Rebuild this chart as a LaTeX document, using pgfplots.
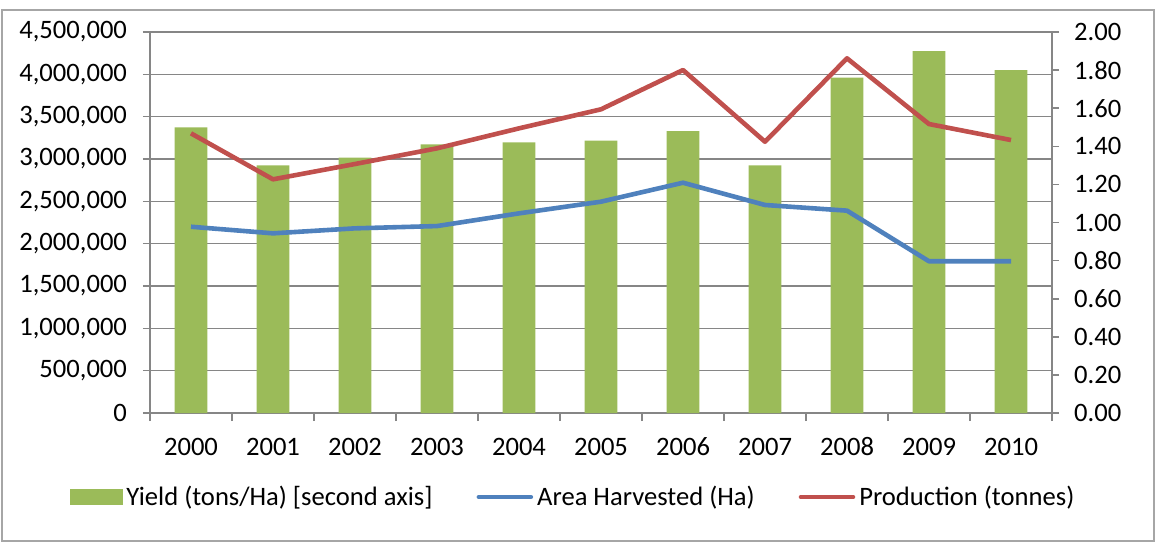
\documentclass[border=0pt]{standalone}
\usepackage{pgfplots}
\pgfplotsset{compat=1.18}
\usepackage{fontspec}
\setmainfont{Carlito}
\definecolor{ygreen}{HTML}{9BBB59}
\definecolor{ablue}{HTML}{4F81BD}
\definecolor{pred}{HTML}{C0504D}
\definecolor{gridgray}{HTML}{868686}
\begin{document}
\begin{tikzpicture}[font=\fontsize{13.3}{16}\selectfont]
\useasboundingbox (-75pt,-65pt) rectangle (503pt,206.5pt);
\draw[gray!70, line width=0.8pt] (-74pt,-64pt) rectangle (502pt,201.5pt);
% Axis A: grid, left ticks, x labels
\begin{axis}[
  at={(0,0)}, anchor=south west,
  scale only axis, width=451pt, height=190.5pt,
  xmin=-0.5, xmax=10.5, ymin=0, ymax=4500000,
  axis x line*=bottom, axis y line*=left,
  axis line style={gridgray, line width=0.8pt},
  xtick={0,...,10},
  xticklabels={2000,2001,2002,2003,2004,2005,2006,2007,2008,2009,2010},
  major x tick style={draw=none},
  minor xtick={-0.5,0.5,...,10.5},
  minor x tick style={gridgray, line width=0.8pt},
  minor tick length=4pt,
  scaled y ticks=false,
  ytick={0,500000,...,4500000},
  yticklabels={0,{500,000},{1,000,000},{1,500,000},{2,000,000},{2,500,000},{3,000,000},{3,500,000},{4,000,000},{4,500,000}},
  major tick length=3.5pt,
  tick align=outside,
  ytick style={gridgray, line width=0.8pt},
  ymajorgrids, grid style={gridgray, line width=0.8pt},
  yticklabel style={xshift=-4.5pt},
  xticklabel style={text height=9pt, text depth=0pt, yshift=-5pt},
]
\addplot[draw=none] coordinates {(0,0)};
\end{axis}
% Axis B: bars on the right axis
\begin{axis}[
  at={(0,0)}, anchor=south west,
  scale only axis, width=451pt, height=190.5pt,
  xmin=-0.5, xmax=10.5, ymin=0, ymax=2,
  axis y line*=right, axis x line=none,
  axis line style={gridgray, line width=0.8pt},
  ytick={0,0.2,...,2.01},
  yticklabels={0.00,0.20,0.40,0.60,0.80,1.00,1.20,1.40,1.60,1.80,2.00},
  major tick length=3.5pt, tick align=outside,
  ytick style={gridgray, line width=0.8pt},
  yticklabel style={xshift=4pt},
]
\addplot[ybar, bar width=16.4pt, fill=ygreen, draw=none] coordinates {
(0,1.50) (1,1.30) (2,1.34) (3,1.41) (4,1.42) (5,1.43) (6,1.48) (7,1.30) (8,1.76) (9,1.90) (10,1.80)};
\end{axis}
% Axis C: lines on left axis
\begin{axis}[
  at={(0,0)}, anchor=south west,
  scale only axis, width=451pt, height=190.5pt,
  xmin=-0.5, xmax=10.5, ymin=0, ymax=4500000,
  hide axis,
  legend columns=3,
  legend style={draw=none, fill=none, at={(0.470,-0.2205)}, anchor=center,
    /tikz/every even column/.append style={column sep=20pt},
    nodes={inner xsep=2pt}},
  legend cell align=left,
]
\addlegendimage{legend image code/.code={\fill[ygreen] (0pt,-3.75pt) rectangle (26pt,3.75pt);}}
\addlegendentry{Yield (tons/Ha) [second axis]}
\addplot[ablue, line width=2.3pt, line join=round,
  legend image code/.code={\draw[ablue, line width=2.3pt, line cap=round] (0pt,0pt) -- (26pt,0pt);}] coordinates {
(0,2200000) (1,2122000) (2,2181000) (3,2208000) (4,2358000) (5,2496000) (6,2720000) (7,2457000) (8,2390000) (9,1792000) (10,1792000)};
\addlegendentry{Area Harvested (Ha)}
\addplot[pred, line width=2.3pt, line join=round,
  legend image code/.code={\draw[pred, line width=2.3pt, line cap=round] (0pt,0pt) -- (26pt,0pt);}] coordinates {
(0,3303000) (1,2760000) (2,2941000) (3,3126000) (4,3362000) (5,3587000) (6,4051000) (7,3204000) (8,4189000) (9,3413000) (10,3224000)};
\addlegendentry{Production (tonnes)}
\end{axis}
\end{tikzpicture}
\end{document}
